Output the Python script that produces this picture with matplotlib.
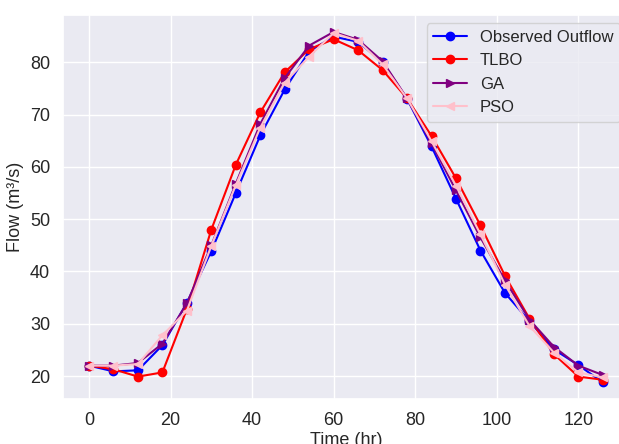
import matplotlib
matplotlib.use("Agg")
import matplotlib.pyplot as plt
import seaborn as sns

time_hr = [0, 6, 12, 18, 24, 30, 36, 42, 48, 54, 60, 66, 72, 78, 84, 90, 96, 102, 108, 114, 120, 126]
observed = [22.0, 20.9, 21.1, 25.9, 34.0, 43.9, 55.0, 66.0, 74.8, 82.1, 84.9, 83.9, 80.0, 73.0, 63.9, 53.9, 44.0, 35.9, 30.5, 25.1, 22.1, 18.8]
tlbo = [22.0, 21.3, 19.9, 20.7, 32.8, 48.0, 60.4, 70.4, 78.1, 82.5, 84.4, 82.3, 78.5, 73.1, 65.9, 57.8, 48.8, 39.2, 31.0, 24.2, 19.9, 19.3]
ga = [22.0, 22.0, 22.5, 26.2, 33.9, 45.0, 56.8, 68.2, 77.0, 83.2, 85.8, 84.3, 80.2, 73.1, 64.5, 55.5, 46.5, 38.3, 30.8, 25.6, 22.0, 20.2]
pso = [22.0, 22.0, 22.3, 27.8, 32.5, 44.9, 56.5, 67.5, 76.1, 81.1, 85.6, 84.1, 79.6, 73.1, 64.9, 56.4, 47.1, 37.5, 29.6, 24.5, 20.7, 19.75]

sns.set_theme(style="darkgrid")
plt.rcParams["font.family"] = ["Liberation Sans", "DejaVu Sans"]

fig = plt.figure(figsize=(6.19, 4.44), dpi=100)
# right edge of the axes runs off the canvas, as in the cropped original
ax = fig.add_axes([63.3 / 619, 44.7 / 444, (628.5 - 63.3) / 619, (399.3 - 15) / 444])

ax.plot(time_hr, observed, color="blue", marker="o", lw=1.5, ms=6, label="Observed Outflow")
ax.plot(time_hr, tlbo, color="red", marker="o", lw=1.5, ms=6, label="TLBO")
ax.plot(time_hr, ga, color="purple", marker=">", lw=1.5, ms=6, label="GA")
ax.plot(time_hr, pso, color="pink", marker="<", lw=1.5, ms=6, label="PSO")

ax.set_xlim(-6.3, 132.3)
ax.set_ylim(15.56, 89.04)
ax.set_xticks([0, 20, 40, 60, 80, 100, 120])
ax.set_yticks([20, 30, 40, 50, 60, 70, 80])
ax.tick_params(labelsize=13)
ax.set_xlabel("Time (hr)", fontsize=13, labelpad=2)
ax.set_ylabel("Flow (m³/s)", fontsize=13)
ax.legend(loc="upper right", fontsize=12)

fig.savefig("out.png", dpi=100)
